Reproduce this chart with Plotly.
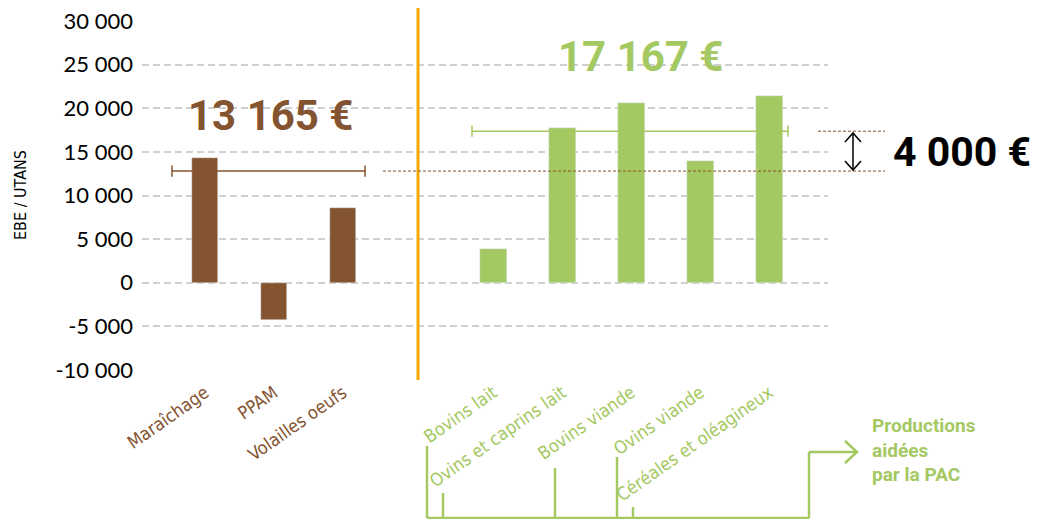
import plotly.graph_objects as go

# ---------------- data ----------------
left_categories = ["Maraîchage", "PPAM", "Volailles oeufs"]
left_values = [14250, -4270, 8600]
right_categories = ["Bovins lait", "Ovins et caprins lait", "Bovins viande",
                    "Ovins viande", "Céréales et oléagineux"]
right_values = [3860, 17720, 20580, 13940, 21380]

left_mean_label = "13 165 €"
right_mean_label = "17 167 €"
left_mean_drawn = 12800     # level at which the reference draws the mean line
right_mean_drawn = 17370
gap_label = "4 000 €"
pac_label = "Productions<br>aidées<br>par la PAC"

y_tick_vals = [-10000, -5000, 0, 5000, 10000, 15000, 20000, 25000, 30000]
y_tick_text = ["-10 000", "-5 000", "0", "5 000", "10 000", "15 000",
               "20 000", "25 000", "30 000"]
y_title = "EBE / UTANS"

# ---------------- style ----------------
BROWN = "#84532F"
GREEN = "#A4C862"
ORANGE = "#F5A800"
GRID = "#D0D0D0"
NARROW = "DejaVu Sans Condensed, Roboto, sans-serif"
BIG = "Roboto, sans-serif"
TICKF = "Lato, Open Sans, sans-serif"

W, H = 1049, 519
ML, MR, MT, MB = 142, 221, 21, 149
PW, PH = W - ML - MR, H - MT - MB

def px_x(p):
    return (p - ML) / PW

def px_y(p):
    return (H - MB - p) / PH

# category positions (left group 0..2, right group shifted after a gap)
left_x = list(range(len(left_categories)))
right_offset = 4.18
right_x = [right_offset + i for i in range(len(right_categories))]
x_range = [-0.913, 9.03]

fig = go.Figure()
fig.add_trace(go.Bar(x=left_x, y=left_values, marker_color=BROWN, width=0.39,
                     showlegend=False, hoverinfo="skip"))
fig.add_trace(go.Bar(x=right_x, y=right_values, marker_color=GREEN, width=0.39,
                     showlegend=False, hoverinfo="skip"))

# mean lines with end caps
fig.add_trace(go.Scatter(x=[-0.478, 2.32], y=[left_mean_drawn] * 2,
                         mode="lines+markers", line=dict(color=BROWN, width=1.5),
                         marker=dict(symbol="line-ns", size=8,
                                     line=dict(color=BROWN, width=1.5)),
                         showlegend=False, hoverinfo="skip"))
fig.add_trace(go.Scatter(x=[3.87, 8.45], y=[right_mean_drawn] * 2,
                         mode="lines+markers", line=dict(color=GREEN, width=1.5),
                         marker=dict(symbol="line-ns", size=8,
                                     line=dict(color=GREEN, width=1.5)),
                         showlegend=False, hoverinfo="skip"))

tickvals = left_x + right_x
ticktext = ([f'<span style="color:{BROWN}">{c}</span>' for c in left_categories] +
            [f'<span style="color:{GREEN}">{c}</span>' for c in right_categories])

shapes = []
# orange separator
shapes.append(dict(type="line", xref="paper", yref="paper",
                   x0=px_x(418), x1=px_x(418), y0=px_y(8), y1=px_y(380),
                   line=dict(color=ORANGE, width=3)))
# dotted mean-level lines
shapes.append(dict(type="line", xref="paper", yref="y",
                   x0=px_x(383), x1=px_x(885), y0=left_mean_drawn, y1=left_mean_drawn,
                   line=dict(color=BROWN, width=1, dash="3px,2px")))
shapes.append(dict(type="line", xref="paper", yref="y",
                   x0=px_x(818), x1=px_x(885), y0=right_mean_drawn, y1=right_mean_drawn,
                   line=dict(color=BROWN, width=1, dash="3px,2px")))
# double arrow
ax = 853
a_top, a_bot = 133, 170
shapes.append(dict(type="line", xref="paper", yref="paper",
                   x0=px_x(ax), x1=px_x(ax), y0=px_y(a_top), y1=px_y(a_bot),
                   line=dict(color="black", width=1.5)))
for tip, d in [(a_top, 1), (a_bot, -1)]:
    shapes.append(dict(type="path", xref="paper", yref="paper",
                       path=f"M {px_x(ax-8)},{px_y(tip + 9*d)} L {px_x(ax)},{px_y(tip)} "
                            f"L {px_x(ax+8)},{px_y(tip + 9*d)}",
                       line=dict(color="black", width=1.5)))
# bracket under the green categories
for xx, top in [(427, 446), (443, 493), (555, 468), (617, 457), (633, 507), (809, 452)]:
    shapes.append(dict(type="line", xref="paper", yref="paper",
                       x0=px_x(xx), x1=px_x(xx), y0=px_y(top), y1=px_y(518),
                       line=dict(color=GREEN, width=2.5)))
shapes.append(dict(type="line", xref="paper", yref="paper",
                   x0=px_x(427), x1=px_x(809), y0=px_y(518), y1=px_y(518),
                   line=dict(color=GREEN, width=2.5)))
shapes.append(dict(type="line", xref="paper", yref="paper",
                   x0=px_x(809), x1=px_x(856), y0=px_y(452), y1=px_y(452),
                   line=dict(color=GREEN, width=2.5)))
shapes.append(dict(type="path", xref="paper", yref="paper",
                   path=f"M {px_x(845)},{px_y(441)} L {px_x(857)},{px_y(452)} "
                        f"L {px_x(845)},{px_y(463)}",
                   line=dict(color=GREEN, width=2.5)))

def ann(text, cx, cy, font, **kw):
    d = dict(text=text, xref="paper", yref="paper", x=px_x(cx), y=px_y(cy),
             xanchor="center", yanchor="middle", showarrow=False, font=font)
    d.update(kw)
    return d

annotations = [
    ann(f"<b>{left_mean_label}</b>", 270, 115, dict(family=BIG, size=42, color=BROWN)),
    ann(f"<b>{right_mean_label}</b>", 640, 56, dict(family=BIG, size=42, color=GREEN)),
    ann(f"<b>{gap_label}</b>", 962, 152, dict(family=BIG, size=41, color="black")),
    ann(f"<b>{pac_label}</b>", 870, 412, dict(family=BIG, size=19, color=GREEN),
        xanchor="left", yanchor="top", align="left"),
    ann(y_title, 20, 195, dict(family=NARROW, size=16, color="black"), textangle=-90),
]

fig.update_layout(
    width=W, height=H,
    margin=dict(l=ML, r=MR, t=MT, b=MB, autoexpand=False),
    plot_bgcolor="white", paper_bgcolor="white",
    bargap=0, barmode="overlay",
    shapes=shapes, annotations=annotations,
    xaxis=dict(range=x_range, tickvals=tickvals, ticktext=ticktext,
               tickangle=-35, showgrid=False, zeroline=False, showline=False,
               ticks="", ticklabelstandoff=8, automargin=False,
               tickfont=dict(family=NARROW, size=18)),
    yaxis=dict(range=[-10000, 30000], tickvals=y_tick_vals, ticktext=y_tick_text,
               showgrid=True, gridcolor=GRID, griddash="7px,4px", gridwidth=1.5,
               zeroline=False, showline=False, ticks="", ticklabelstandoff=8,
               automargin=False,
               tickfont=dict(family=TICKF, size=22, color="black")),
)

fig.write_html("out.html",
               config={"displayModeBar": False},
               post_script="document.body.style.margin='0';document.body.style.overflow='hidden';")
